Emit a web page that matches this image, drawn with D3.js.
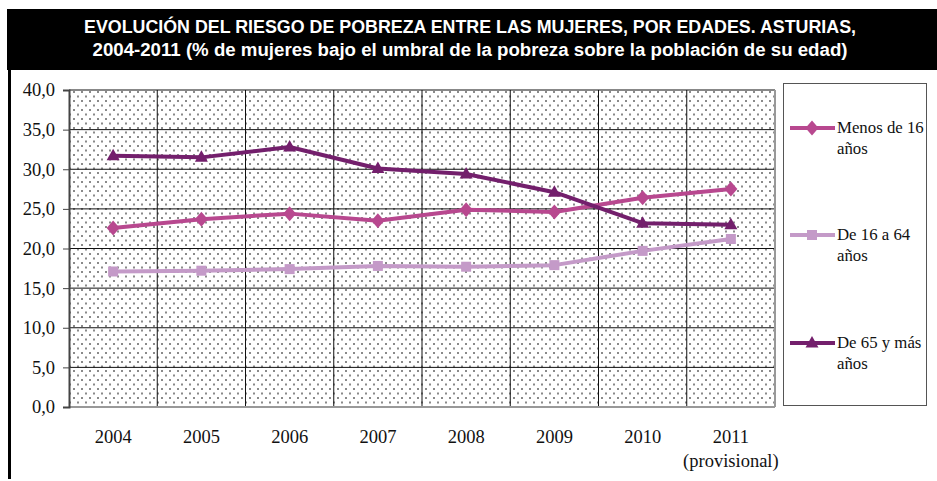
<!DOCTYPE html>
<html><head><meta charset="utf-8">
<script src="https://cdn.jsdelivr.net/npm/d3@7/dist/d3.min.js"></script>
<style>body{margin:0;background:#fff}svg{display:block}</style>
</head><body>
<script>
const years = ["2004","2005","2006","2007","2008","2009","2010","2011"];
const menos16 = [22.6, 23.7, 24.4, 23.5, 24.9, 24.6, 26.4, 27.5];
const de16a64 = [17.1, 17.2, 17.4, 17.8, 17.7, 17.9, 19.7, 21.2];
const de65 = [31.7, 31.5, 32.8, 30.1, 29.4, 27.1, 23.2, 23.0];
const yTicks = [0, 5, 10, 15, 20, 25, 30, 35, 40];
const seriesNames = [["Menos de 16", "años"], ["De 16 a 64", "años"], ["De 65 y más", "años"]];
const seriesColors = ["#b8488f", "#c49ac8", "#731f6c"];
const seriesShapes = ["diamond", "square", "triangle"];
const titleLines = ["EVOLUCIÓN DEL RIESGO DE POBREZA ENTRE LAS MUJERES, POR EDADES. ASTURIAS,",
  "2004-2011 (% de mujeres bajo el umbral de la pobreza sobre la población de su edad)"];

const W = 937, H = 481;
const serif = "'Liberation Serif', 'Times New Roman', serif";
const svg = d3.select("body").append("svg").attr("width", W).attr("height", H);

// pattern
const defs = svg.append("defs");
const pat = defs.append("pattern").attr("id", "dots").attr("patternUnits", "userSpaceOnUse")
  .attr("width", 8).attr("height", 9);
pat.append("rect").attr("width", 8).attr("height", 9).attr("fill", "#fff");
pat.append("rect").attr("x", 1).attr("y", 1).attr("width", 2).attr("height", 2).attr("fill", "#8a8a8a");
pat.append("rect").attr("x", 5).attr("y", 5.5).attr("width", 2).attr("height", 2).attr("fill", "#8a8a8a");

// banner
svg.append("rect").attr("x", 7).attr("y", 9).attr("width", W - 7).attr("height", 61).attr("fill", "#000");
svg.append("rect").attr("x", 8).attr("y", 70).attr("width", 3).attr("height", 409).attr("fill", "#000");
svg.selectAll("text.title").data(titleLines).join("text")
  .attr("x", 470).attr("y", (d, i) => 33 + i * 23)
  .attr("text-anchor", "middle").attr("fill", "#fff")
  .attr("font-family", "'Liberation Sans', Arial, sans-serif").attr("font-weight", "bold")
  .attr("font-size", 17.5)
  .attr("textLength", (d, i) => i === 0 ? 772 : 755).attr("lengthAdjust", "spacingAndGlyphs")
  .text(d => d);

const m = {l: 69, r: 775, t: 90, b: 407};
const x = d3.scaleBand().domain(years).range([m.l, m.r]);
const y = d3.scaleLinear().domain([0, 40]).range([m.b, m.t]);

svg.append("rect").attr("x", m.l).attr("y", m.t).attr("width", m.r - m.l).attr("height", m.b - m.t)
  .attr("fill", "url(#dots)");

// grid
svg.append("g").selectAll("line").data(yTicks.slice(1)).join("line")
  .attr("x1", m.l).attr("x2", m.r).attr("y1", d => y(d)).attr("y2", d => y(d))
  .attr("stroke", "#111").attr("stroke-width", 1);
svg.append("g").selectAll("line").data(years.slice(1)).join("line")
  .attr("x1", d => x(d)).attr("x2", d => x(d)).attr("y1", m.t).attr("y2", m.b)
  .attr("stroke", "#111").attr("stroke-width", 1);
// frame
svg.append("line").attr("x1", m.r).attr("x2", m.r).attr("y1", m.t).attr("y2", m.b).attr("stroke", "#999").attr("stroke-width", 2);
svg.append("line").attr("x1", m.l).attr("x2", m.r).attr("y1", m.b).attr("y2", m.b).attr("stroke", "#999").attr("stroke-width", 2);

// y axis
const yAxis = svg.append("g").attr("transform", `translate(${m.l},0)`)
  .call(d3.axisLeft(y).tickValues(yTicks).tickSize(6).tickPadding(8)
    .tickFormat(d => d3.format(".1f")(d).replace(".", ",")));
yAxis.select(".domain").attr("stroke", "#444").attr("stroke-width", 2);
yAxis.selectAll(".tick line").attr("stroke", "#444");
yAxis.selectAll("text").attr("font-family", serif)
  .attr("font-size", 18.5).attr("fill", "#111");

// x labels
svg.append("g").selectAll("text").data(years).join("text")
  .attr("x", d => x(d) + x.bandwidth() / 2).attr("y", 443)
  .attr("text-anchor", "middle").attr("font-family", serif)
  .attr("font-size", 18.5).attr("fill", "#111").text(d => d);
svg.append("text").attr("x", x("2011") + x.bandwidth() / 2).attr("y", 467)
  .attr("text-anchor", "middle").attr("font-family", serif)
  .attr("font-size", 18.5).attr("fill", "#111").text("(provisional)");

function marker(g, shape, color, cx, cy) {
  if (shape === "diamond") {
    g.append("path").attr("d", `M${cx},${cy - 7.5}L${cx + 6.5},${cy}L${cx},${cy + 7.5}L${cx - 6.5},${cy}Z`).attr("fill", color);
  } else if (shape === "square") {
    g.append("rect").attr("x", cx - 5).attr("y", cy - 5).attr("width", 10).attr("height", 10).attr("fill", color);
  } else {
    g.append("path").attr("d", `M${cx},${cy - 7}L${cx + 6.5},${cy + 4.5}L${cx - 6.5},${cy + 4.5}Z`).attr("fill", color);
  }
}

const allSeries = [menos16, de16a64, de65];
const line = d3.line().x((d, i) => x(years[i]) + x.bandwidth() / 2).y(d => y(d));
allSeries.forEach((s, k) => {
  const g = svg.append("g");
  g.append("path").attr("d", line(s)).attr("fill", "none").attr("stroke", seriesColors[k])
    .attr("stroke-width", 4).attr("stroke-linejoin", "round");
  s.forEach((v, i) => marker(g, seriesShapes[k], seriesColors[k], x(years[i]) + x.bandwidth() / 2, y(v)));
});

// legend
svg.append("rect").attr("x", 783.5).attr("y", 83.5).attr("width", 143).attr("height", 322)
  .attr("fill", "#fff").attr("stroke", "#555").attr("stroke-width", 1);
const legY = [128, 235, 343];
seriesNames.forEach((nm, k) => {
  const g = svg.append("g");
  g.append("line").attr("x1", 790).attr("x2", 835).attr("y1", legY[k]).attr("y2", legY[k])
    .attr("stroke", seriesColors[k]).attr("stroke-width", 4);
  marker(g, seriesShapes[k], seriesColors[k], 812, legY[k]);
  g.append("text").attr("x", 837).attr("y", legY[k] + 5).attr("font-family", serif)
    .attr("font-size", 16.8).attr("fill", "#111").text(nm[0]);
  g.append("text").attr("x", 837).attr("y", legY[k] + 26).attr("font-family", serif)
    .attr("font-size", 16.8).attr("fill", "#111").text(nm[1]);
});
</script>
</body></html>
